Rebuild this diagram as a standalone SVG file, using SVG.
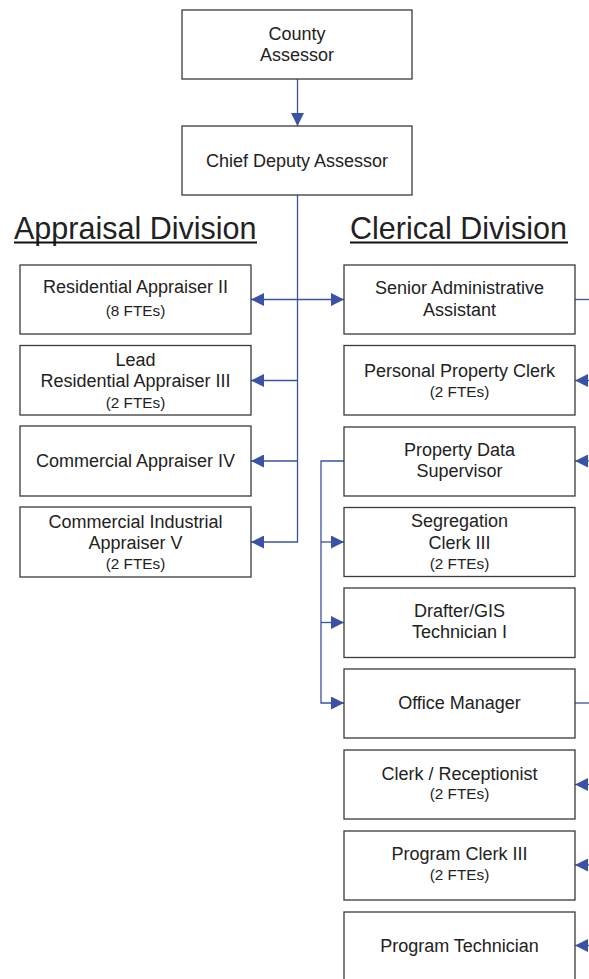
<svg xmlns="http://www.w3.org/2000/svg" width="589" height="979" viewBox="0 0 589 979">
  <style>
    .box { fill: #ffffff; stroke: #3a3a3a; stroke-width: 1.3; }
    .t { font-family: "Liberation Sans", Arial, sans-serif; font-size: 18px; fill: #222222; text-anchor: middle; }
    .s { font-family: "Liberation Sans", Arial, sans-serif; font-size: 15.3px; fill: #222222; text-anchor: middle; }
    .title { font-family: "Liberation Sans", Arial, sans-serif; font-size: 30.5px; fill: #222222; }
    .conn { fill: none; stroke: #3a52a6; stroke-width: 1.3; }
    .uline { stroke: #111111; stroke-width: 2; }
  </style>
  <defs>
    <marker id="arrow" viewBox="0 0 13 13" refX="13" refY="6.5" markerWidth="13" markerHeight="13" markerUnits="userSpaceOnUse" orient="auto-start-reverse">
      <path d="M0,0 L13,6.5 L0,13 Z" fill="#3a52a6"/>
    </marker>
  </defs>

  <rect width="589" height="979" fill="#ffffff"/>

  <!-- section headings -->
  <g id="heading-appraisal">
    <text class="title" x="14" y="238.5">Appraisal Division</text>
    <line class="uline" x1="14" y1="242.5" x2="257" y2="242.5"/>
  </g>
  <g id="heading-clerical">
    <text class="title" x="350" y="238.5">Clerical Division</text>
    <line class="uline" x1="350" y1="242.5" x2="568" y2="242.5"/>
  </g>

  <!-- connectors -->
  <g id="connectors">
    <line class="conn" x1="297.5" y1="79" x2="297.5" y2="126" marker-end="url(#arrow)"/>
    <polyline class="conn" points="297.5,195 297.5,542 251,542" marker-end="url(#arrow)"/>
    <line class="conn" x1="297.5" y1="461" x2="251" y2="461" marker-end="url(#arrow)"/>
    <line class="conn" x1="297.5" y1="380.5" x2="251" y2="380.5" marker-end="url(#arrow)"/>
    <line class="conn" x1="251" y1="299.5" x2="344" y2="299.5" marker-start="url(#arrow)" marker-end="url(#arrow)"/>
    <!-- property data supervisor reports -->
    <polyline class="conn" points="344,461 321,461 321,703 344,703" marker-end="url(#arrow)"/>
    <line class="conn" x1="321" y1="542" x2="344" y2="542" marker-end="url(#arrow)"/>
    <line class="conn" x1="321" y1="622.5" x2="344" y2="622.5" marker-end="url(#arrow)"/>
    <!-- right-hand bus, continuing off the page -->
    <line class="conn" x1="575" y1="299.5" x2="589" y2="299.5"/>
    <line class="conn" x1="589" y1="380.5" x2="575" y2="380.5" marker-end="url(#arrow)"/>
    <line class="conn" x1="589" y1="461" x2="575" y2="461" marker-end="url(#arrow)"/>
    <line class="conn" x1="575" y1="703" x2="589" y2="703"/>
    <line class="conn" x1="589" y1="784.5" x2="575" y2="784.5" marker-end="url(#arrow)"/>
    <line class="conn" x1="589" y1="865" x2="575" y2="865" marker-end="url(#arrow)"/>
    <line class="conn" x1="589" y1="945.5" x2="575" y2="945.5" marker-end="url(#arrow)"/>
  </g>

  <!-- executive -->
  <g id="county-assessor">
    <rect class="box" x="182" y="10" width="230" height="69"/>
    <text class="t" x="297" y="40">County</text>
    <text class="t" x="297" y="61">Assessor</text>
  </g>
  <g id="chief-deputy-assessor">
    <rect class="box" x="182" y="126" width="230" height="69"/>
    <text class="t" x="297" y="166.5">Chief Deputy Assessor</text>
  </g>

  <!-- appraisal division -->
  <g id="residential-appraiser-ii">
    <rect class="box" x="20" y="265" width="231" height="69"/>
    <text class="t" x="135.5" y="293">Residential Appraiser II</text>
    <text class="s" x="135.5" y="316">(8 FTEs)</text>
  </g>
  <g id="lead-residential-appraiser-iii">
    <rect class="box" x="20" y="345.5" width="231" height="69.5"/>
    <text class="t" x="135.5" y="366">Lead</text>
    <text class="t" x="135.5" y="386.5">Residential Appraiser III</text>
    <text class="s" x="135.5" y="407.5">(2 FTEs)</text>
  </g>
  <g id="commercial-appraiser-iv">
    <rect class="box" x="20" y="426" width="231" height="70"/>
    <text class="t" x="135.5" y="467">Commercial Appraiser IV</text>
  </g>
  <g id="commercial-industrial-appraiser-v">
    <rect class="box" x="20" y="507" width="231" height="70"/>
    <text class="t" x="135.5" y="528">Commercial Industrial</text>
    <text class="t" x="135.5" y="549">Appraiser V</text>
    <text class="s" x="135.5" y="569">(2 FTEs)</text>
  </g>

  <!-- clerical division -->
  <g id="senior-administrative-assistant">
    <rect class="box" x="344" y="265" width="231" height="69"/>
    <text class="t" x="459.5" y="294">Senior Administrative</text>
    <text class="t" x="459.5" y="315.5">Assistant</text>
  </g>
  <g id="personal-property-clerk">
    <rect class="box" x="344" y="345.5" width="231" height="69.5"/>
    <text class="t" x="459.5" y="376.5">Personal Property Clerk</text>
    <text class="s" x="459.5" y="396.5">(2 FTEs)</text>
  </g>
  <g id="property-data-supervisor">
    <rect class="box" x="344" y="427" width="231" height="69"/>
    <text class="t" x="459.5" y="455.5">Property Data</text>
    <text class="t" x="459.5" y="477">Supervisor</text>
  </g>
  <g id="segregation-clerk-iii">
    <rect class="box" x="344" y="507.5" width="231" height="69"/>
    <text class="t" x="459.5" y="527">Segregation</text>
    <text class="t" x="459.5" y="548.5">Clerk III</text>
    <text class="s" x="459.5" y="568.5">(2 FTEs)</text>
  </g>
  <g id="drafter-gis-technician-i">
    <rect class="box" x="344" y="588" width="231" height="69.5"/>
    <text class="t" x="459.5" y="616.5">Drafter/GIS</text>
    <text class="t" x="459.5" y="638">Technician I</text>
  </g>
  <g id="office-manager">
    <rect class="box" x="344" y="669" width="231" height="69"/>
    <text class="t" x="459.5" y="708.5">Office Manager</text>
  </g>
  <g id="clerk-receptionist">
    <rect class="box" x="344" y="750" width="231" height="69"/>
    <text class="t" x="459.5" y="780">Clerk / Receptionist</text>
    <text class="s" x="459.5" y="799">(2 FTEs)</text>
  </g>
  <g id="program-clerk-iii">
    <rect class="box" x="344" y="831" width="231" height="69"/>
    <text class="t" x="459.5" y="860">Program Clerk III</text>
    <text class="s" x="459.5" y="880">(2 FTEs)</text>
  </g>
  <g id="program-technician">
    <rect class="box" x="344" y="912" width="231" height="69"/>
    <text class="t" x="459.5" y="951.5">Program Technician</text>
  </g>
</svg>
